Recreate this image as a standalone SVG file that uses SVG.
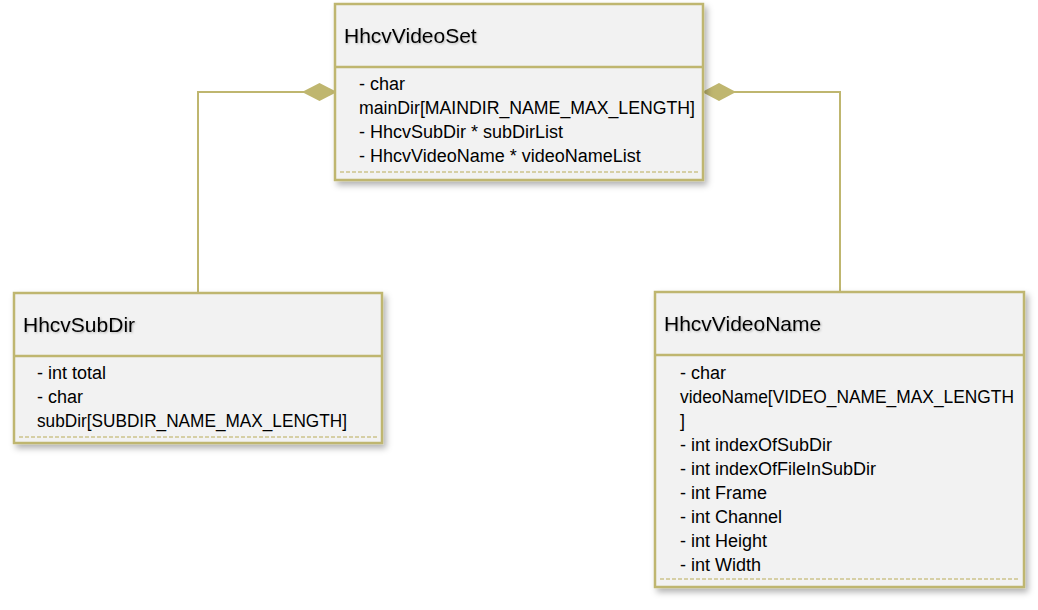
<svg xmlns="http://www.w3.org/2000/svg" width="1038" height="610" viewBox="0 0 1038 610">
<defs>
<filter id="sh" x="-10%" y="-10%" width="120%" height="130%">
<feDropShadow dx="3" dy="4" stdDeviation="3" flood-color="#000" flood-opacity="0.3"/>
</filter>
<filter id="ts" x="-5%" y="-30%" width="110%" height="160%">
<feDropShadow dx="1" dy="1" stdDeviation="1.2" flood-color="#000" flood-opacity="0.25"/>
</filter>
</defs>
<style>
.box{fill:#f2f2f2;stroke:#bfb66f;stroke-width:2.5}
.div{stroke:#bfb66f;stroke-width:2.5}
.dash{stroke:#cdc48c;stroke-width:1.5;stroke-dasharray:4 2;fill:none}
.title{font-family:"Liberation Sans",Arial,sans-serif;font-size:21px;fill:#000}
.attr{font-family:"Liberation Sans",Arial,sans-serif;font-size:18px;fill:#000}
.conn{stroke:#bfb66f;stroke-width:2;fill:none}
.dia{fill:#bfb66f}
</style>
<rect width="1038" height="610" fill="#fff"/>
<g id="connectors">
<polyline class="conn" points="198,293 198,92 320,92"/>
<polygon class="dia" points="302,92 319.5,83 337,92 319.5,101"/>
<polyline class="conn" points="840,293 840,92 720,92"/>
<polygon class="dia" points="702,92 719,83 736,92 719,101"/>
</g>
<g id="HhcvVideoSet">
<rect class="box" x="335" y="4" width="368" height="176" filter="url(#sh)"/>
<line class="div" x1="335" y1="67" x2="703" y2="67"/>
<text class="title" x="344" y="43" filter="url(#ts)">HhcvVideoSet</text>
<text class="attr" x="359" y="90">- char</text>
<text class="attr" x="359" y="114" textLength="336" lengthAdjust="spacingAndGlyphs">mainDir[MAINDIR_NAME_MAX_LENGTH]</text>
<text class="attr" x="359" y="138">- HhcvSubDir * subDirList</text>
<text class="attr" x="359" y="162">- HhcvVideoName * videoNameList</text>
<line class="dash" x1="340" y1="172" x2="698" y2="172"/>
</g>
<g id="HhcvSubDir">
<rect class="box" x="14" y="293" width="368" height="150" filter="url(#sh)"/>
<line class="div" x1="14" y1="356" x2="382" y2="356"/>
<text class="title" x="23" y="332" filter="url(#ts)">HhcvSubDir</text>
<text class="attr" x="37" y="379">- int total</text>
<text class="attr" x="37" y="403">- char</text>
<text class="attr" x="37" y="427" textLength="310" lengthAdjust="spacingAndGlyphs">subDir[SUBDIR_NAME_MAX_LENGTH]</text>
<line class="dash" x1="19" y1="437" x2="377" y2="437"/>
</g>
<g id="HhcvVideoName">
<rect class="box" x="655" y="292" width="369" height="295" filter="url(#sh)"/>
<line class="div" x1="655" y1="355" x2="1024" y2="355"/>
<text class="title" x="664" y="331" filter="url(#ts)">HhcvVideoName</text>
<text class="attr" x="680" y="379">- char</text>
<text class="attr" x="680" y="403" textLength="334" lengthAdjust="spacingAndGlyphs">videoName[VIDEO_NAME_MAX_LENGTH</text>
<text class="attr" x="680" y="427">]</text>
<text class="attr" x="680" y="451">- int indexOfSubDir</text>
<text class="attr" x="680" y="475">- int indexOfFileInSubDir</text>
<text class="attr" x="680" y="499">- int Frame</text>
<text class="attr" x="680" y="523">- int Channel</text>
<text class="attr" x="680" y="547">- int Height</text>
<text class="attr" x="680" y="571">- int Width</text>
<line class="dash" x1="660" y1="579" x2="1019" y2="579"/>
</g>
</svg>
